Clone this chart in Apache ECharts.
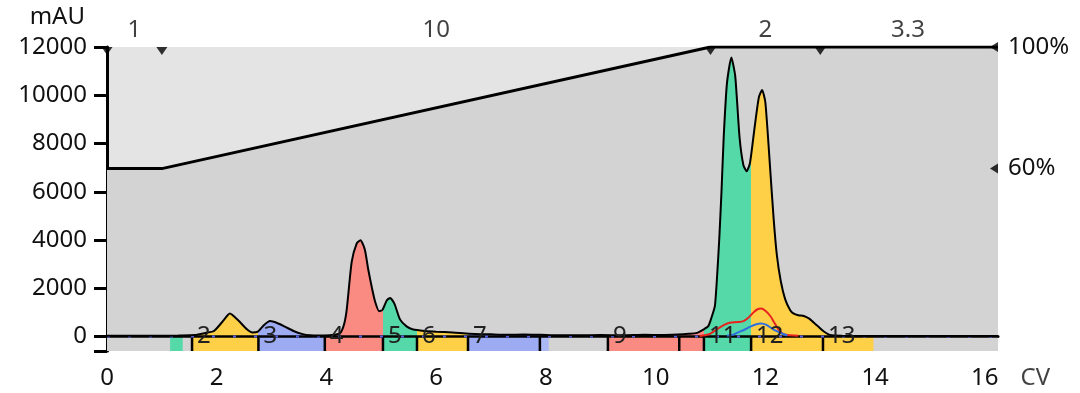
<!DOCTYPE html>
<html><head><meta charset="utf-8">
<script src="https://cdn.jsdelivr.net/npm/echarts@6/dist/echarts.min.js"></script>
<style>html,body{margin:0;padding:0;background:#fff}#c{width:1080px;height:393px}</style>
</head><body><div id="c"></div>
<script>
// ---- Data ----
const cv  = [0,0.5,1.0,1.3,1.6,1.8,1.95,2.1,2.24,2.4,2.55,2.65,2.75,2.85,2.97,3.1,3.25,3.4,3.55,3.7,3.9,4.1,4.25,4.32,4.37,4.46,4.55,4.62,4.7,4.76,4.83,4.89,4.96,5.02,5.1,5.16,5.24,5.34,5.46,5.58,5.8,6.0,6.3,6.6,7.0,7.3,7.6,7.9,8.2,8.6,9.0,9.4,9.8,10.1,10.4,10.6,10.75,10.87,10.96,11.02,11.08,11.12,11.16,11.2,11.24,11.3,11.38,11.45,11.53,11.6,11.66,11.72,11.8,11.88,11.94,12.0,12.09,12.15,12.21,12.28,12.36,12.45,12.51,12.6,12.7,12.8,12.88,12.97,13.06,13.18,13.4,14.0,16.24];
const mau = [30,30,30,40,60,150,230,600,950,650,300,170,200,450,640,560,400,230,110,50,40,60,150,500,1130,3090,3850,3990,3600,2800,2000,1420,1050,1100,1500,1600,1350,710,420,290,230,200,170,120,90,70,80,70,50,50,60,50,70,60,80,110,150,290,430,800,1270,2500,4060,6000,8240,10500,11560,10800,8240,7100,6850,7200,8600,9900,10220,9700,6860,4900,3360,2300,1550,1100,960,880,850,740,580,400,220,60,30,20,20];
const redCv  = [10.8,10.9,11.0,11.11,11.25,11.35,11.5,11.6,11.7,11.78,11.85,11.92,12.0,12.09,12.17,12.24,12.33,12.45,12.6];
const redMau = [20,50,120,290,480,570,600,640,800,990,1120,1160,1070,850,550,290,100,50,30];
const blueCv  = [11.3,11.42,11.48,11.6,11.72,11.82,11.92,12.02,12.15,12.3,12.4];
const blueMau = [30,80,150,260,400,500,540,480,290,125,40];
const gradCv = [0,1,11,16.24];
const gradB  = [60,60,100,100];
const segBreaks = [0,1,11,13];
const segLabels = ['1','10','2','3.3'];
const segLabelCv = [0.5,6,12,14.6];
const fracLabels = ['','2','3','4','5','6','7','','9','','11','12','13'];
const fracStart  = [1.15,1.55,2.76,3.97,5.03,5.65,6.58,7.89,9.13,10.43,10.88,11.74,13.05];
const fracEnd    = [1.38,2.76,3.97,5.03,5.65,6.58,7.89,8.05,10.43,10.88,11.74,13.05,13.97];
const fracKind   = ['g','y','b','r','g','y','b','lb','r','r','g','y','y'];
const fracBorder = [false,true,true,true,true,true,true,true,true,true,true,true,true];
const xTicks = [0,2,4,6,8,10,12,14,16];
const yTicks = [0,2000,4000,6000,8000,10000,12000];
const bTicks = [60,100];
const xName = 'CV';

// ---- Style ----
const COL = {g:'#55d9a9', y:'#fdd047', b:'#9dabf3', r:'#fa8b82', lb:'#aab9f5'};
const FONT = 'Noto Sans';
const Y_MIN = -600, Y_MAX = 12000, X_MAX = 16.24;

const chart = echarts.init(document.getElementById('c'), null, {renderer:'canvas'});
const pts = cv.map((x,i)=>[x, mau[i]]);

const option = {
  animation:false,
  textStyle:{fontFamily:FONT},
  grid:{left:107, right:82, top:47, bottom:42, show:true, backgroundColor:'#e4e4e4', borderWidth:0, outerBoundsMode:'none'},
  xAxis:{type:'value', min:0, max:X_MAX,
    axisLine:{show:true, lineStyle:{color:'#000', width:3}},
    axisTick:{show:true, length:11, lineStyle:{color:'#000', width:3}, customValues:xTicks},
    axisLabel:{fontFamily:FONT, fontSize:24, color:'#111', margin:15, customValues:xTicks, formatter:v=>String(v)},
    splitLine:{show:false}},
  yAxis:[
    {type:'value', min:Y_MIN, max:Y_MAX, name:'mAU', nameLocation:'end', nameGap:30,
      nameTextStyle:{fontFamily:FONT, fontSize:24, color:'#111', align:'right', verticalAlign:'middle', padding:[0,22,0,0]},
      axisLine:{show:true, lineStyle:{color:'#000', width:3}},
      axisTick:{show:true, length:13, lineStyle:{color:'#000', width:3}, customValues:[Y_MIN].concat(yTicks)},
      axisLabel:{fontFamily:FONT, fontSize:24, color:'#111', margin:20, customValues:yTicks, formatter:v=>String(v)},
      splitLine:{show:false}},
    {type:'value', min:0, max:100, position:'right',
      axisLine:{show:false}, axisTick:{show:false},
      axisLabel:{fontFamily:FONT, fontSize:24, color:'#111', margin:10, customValues:bTicks, formatter:v=>v+'%'},
      splitLine:{show:false}}
  ],
  visualMap:{show:false, type:'piecewise', dimension:0, seriesIndex:2,
    pieces: fracStart.map((s,i)=>({gte:s, lt:fracEnd[i], color:COL[fracKind[i]]})),
    outOfRange:{color:'rgba(0,0,0,0)'}},
  series:[
    {type:'line', yAxisIndex:1, z:1, symbol:'none', data:gradCv.map((x,i)=>[x,gradB[i]]),
      lineStyle:{color:'#000', width:3}, areaStyle:{color:'#d3d3d3', opacity:1, origin:'start'}},
    {type:'custom', z:2, data:fracStart.map((s,i)=>[s, fracEnd[i], i]),
      renderItem:(params, api)=>{
        const i = api.value(2);
        const p0 = api.coord([api.value(0), 0]);
        const p1 = api.coord([api.value(1), Y_MIN]);
        const ch = [{type:'rect', shape:{x:p0[0], y:p0[1], width:p1[0]-p0[0], height:p1[1]-p0[1]}, style:{fill:COL[fracKind[i]]}}];
        if (fracBorder[i]) ch.push({type:'line', shape:{x1:p0[0], y1:p0[1], x2:p0[0], y2:p1[1]}, style:{stroke:'#000', lineWidth:2.5}});
        return {type:'group', children:ch};
      }},
    {type:'line', z:2, symbol:'none', data:pts, lineStyle:{width:0, opacity:0}, areaStyle:{opacity:1}},
    {type:'line', z:3, symbol:'none', data:[[0,0],[X_MAX,0]], lineStyle:{color:'#000', width:2.5}},
    {type:'line', z:3, symbol:'none', data:[[0,0],[X_MAX,0]], lineStyle:{color:'#5a63e8', width:2, type:[3,18]}},
    {type:'line', z:4, symbol:'none', data:redCv.map((x,i)=>[x,redMau[i]]), smooth:0.3, lineStyle:{color:'#e8231e', width:2}},
    {type:'line', z:4, symbol:'none', data:blueCv.map((x,i)=>[x,blueMau[i]]), smooth:0.3, lineStyle:{color:'#2f6fe0', width:2}},
    {type:'line', z:5, symbol:'none', data:pts, smooth:0.2, lineStyle:{color:'#000', width:2}},
    {type:'custom', z:6, data:fracStart.map((s,i)=>[s, i]),
      renderItem:(params, api)=>{
        const i = api.value(1);
        const p = api.coord([api.value(0), 0]);
        return {type:'text', x:p[0]+5, y:p[1], style:{text:fracLabels[i], fontFamily:FONT, fontSize:24, fill:'#222', align:'left', verticalAlign:'middle'}};
      }},
    {type:'scatter', yAxisIndex:1, z:6, data:segBreaks.map(x=>[x,100]), symbol:'triangle', symbolRotate:180,
      symbolSize:[11,8], symbolOffset:[0,4], itemStyle:{color:'#000'}},
    {type:'scatter', yAxisIndex:1, z:6, data:bTicks.map(v=>[X_MAX,v]), symbol:'triangle', symbolRotate:90,
      symbolSize:[10,8], symbolOffset:[-4,0], itemStyle:{color:'#000'}},
    {type:'scatter', yAxisIndex:1, z:6, data:segLabelCv.map((x,i)=>({value:[x,100], name:segLabels[i]})),
      symbolSize:1, itemStyle:{color:'rgba(0,0,0,0)'},
      label:{show:true, position:'top', distance:4, formatter:'{b}', fontFamily:FONT, fontSize:24, color:'#111'}},
    // x-axis name placed at the axis end, level with the tick labels
    {type:'scatter', z:6, data:[{value:[X_MAX, Y_MIN], name:xName}], symbolSize:1, itemStyle:{color:'rgba(0,0,0,0)'},
      label:{show:true, position:'right', distance:22, offset:[0,27], formatter:'{b}', fontFamily:FONT, fontSize:24, color:'#111'}}
  ]
};
chart.setOption(option);
</script></body></html>
